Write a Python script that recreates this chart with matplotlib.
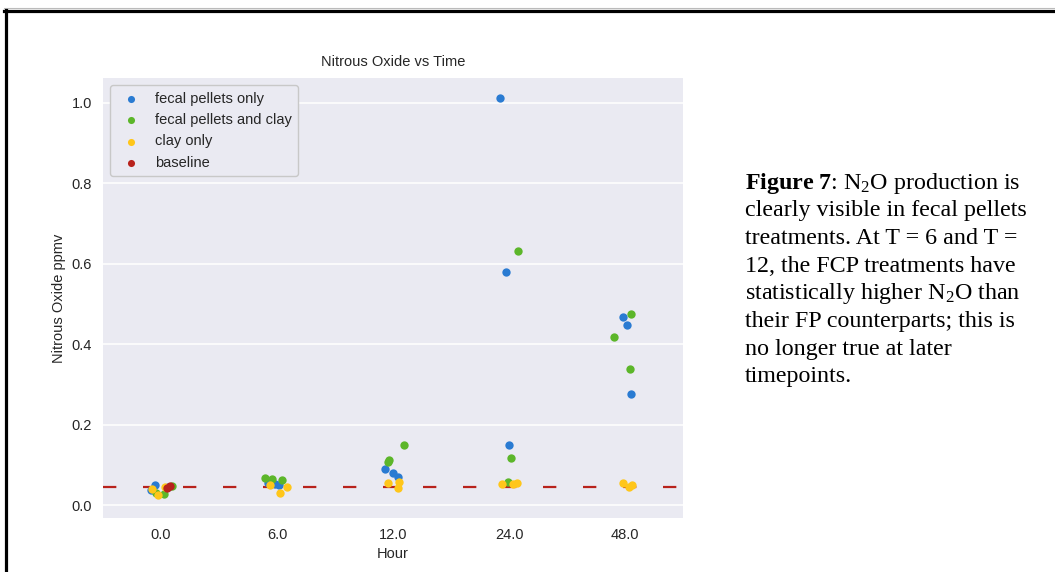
import numpy as np
import matplotlib.pyplot as plt
from matplotlib.lines import Line2D

# N2O readings (ppmv), three replicates per treatment at each sampling hour
hours = [0, 6, 12, 24, 48]
hour_labels = ["0.0", "6.0", "12.0", "24.0", "48.0"]

fecal_pellets_only = [
    [0.037, 0.050, 0.045],
    [0.050, 0.055, 0.052],
    [0.080, 0.089, 0.070],
    [1.012, 0.580, 0.149],
    [0.468, 0.448, 0.276],
]
fecal_pellets_clay = [
    [0.047, 0.030, 0.028],
    [0.062, 0.065, 0.067],
    [0.149, 0.107, 0.112],
    [0.632, 0.117, 0.057],
    [0.475, 0.418, 0.338],
]
clay_only = [
    [0.025, 0.040, 0.045],
    [0.045, 0.050, 0.030],
    [0.055, 0.057, 0.042],
    [0.052, 0.055, 0.052],
    [0.045, 0.050, 0.055],
]
baseline = [0.042, 0.047]  # only sampled at hour 0

treatments = ["fecal pellets only", "fecal pellets and clay", "clay only", "baseline"]
colors = ["#2a7bd2", "#5cb62a", "#ffc61a", "#b8221c"]

plt.rcParams["font.family"] = ["Liberation Sans", "DejaVu Sans"]
plt.rcParams["mathtext.fontset"] = "custom"
plt.rcParams["mathtext.rm"] = "Liberation Serif"
plt.rcParams["mathtext.bf"] = "Liberation Serif:bold"
plt.rcParams["mathtext.it"] = "Liberation Serif:italic"

fig = plt.figure(figsize=(10.55, 5.72), dpi=100)
ax = fig.add_axes([103 / 1055, 54 / 572, 580 / 1055, 440 / 572])

# darkgrid-like look
ax.set_facecolor("#eaeaf2")
for s in ax.spines.values():
    s.set_visible(False)
ax.grid(axis="y", color="white", lw=1.1, zorder=0)
ax.set_axisbelow(True)
ax.tick_params(length=0, labelsize=10.5, labelcolor="#262626")
ax.tick_params(axis="y", pad=8)
ax.tick_params(axis="x", pad=7)

rng = np.random.default_rng(3)


def strip(values_by_hour, color, label):
    xs, ys = [], []
    for i, vals in enumerate(values_by_hour):
        for v in vals:
            xs.append(i + rng.uniform(-0.1, 0.1))
            ys.append(v)
    ax.scatter(xs, ys, s=36, color=color, lw=0, zorder=3, label=label)


strip(fecal_pellets_only, colors[0], treatments[0])
strip(fecal_pellets_clay, colors[1], treatments[1])
strip(clay_only, colors[2], treatments[2])
strip([baseline], colors[3], treatments[3])

# baseline reference level
ax.axhline(np.mean(baseline), color="#b8221c", lw=1.6, dashes=(6, 12), zorder=2)

ax.set_xticks(range(len(hours)))
ax.set_xticklabels(hour_labels)
ax.set_xlim(-0.5, 4.5)
ax.set_ylim(-0.032, 1.062)
ax.set_yticks([0.0, 0.2, 0.4, 0.6, 0.8, 1.0])
ax.set_yticklabels(["0.0", "0.2", "0.4", "0.6", "0.8", "1.0"])

ax.set_title("Nitrous Oxide vs Time", fontsize=10.5, color="#262626", pad=9)
ax.set_xlabel("Hour", fontsize=10.5, color="#262626", labelpad=4)
ax.set_ylabel("Nitrous Oxide ppmv", fontsize=10.5, color="#262626", labelpad=4)

leg = ax.legend(loc="upper left", fontsize=10.5, frameon=True, markerscale=0.85,
                handletextpad=0.6, borderpad=0.45, labelspacing=0.5)
leg.get_frame().set_facecolor("#eaeaf2")
leg.get_frame().set_edgecolor("#c8c8c8")
leg.get_frame().set_alpha(1.0)
for t in leg.get_texts():
    t.set_color("#262626")

# caption on the right
caption = [
    r"$\mathbf{Figure\ 7}$: N$_2$O production is",
    "clearly visible in fecal pellets",
    "treatments. At T = 6 and T =",
    "12, the FCP treatments have",
    r"statistically higher N$_2$O than",
    "their FP counterparts; this is",
    "no longer true at later",
    "timepoints.",
]
y0 = 1 - 183 / 572
step = 27.7 / 572
for k, line in enumerate(caption):
    fig.text(745 / 1055, y0 - k * step, line, fontsize=17.3, va="center", ha="left",
             family="Liberation Serif", color="black")

# slide frame
fig.add_artist(Line2D([4 / 1055, 1], [1 - 8 / 572, 1 - 8 / 572], color="#bbbbbb", lw=0.8))
fig.add_artist(Line2D([4 / 1055, 1], [1 - 10.5 / 572, 1 - 10.5 / 572], color="black", lw=2.3))
fig.add_artist(Line2D([5.5 / 1055, 5.5 / 1055], [0, 1 - 9.5 / 572], color="black", lw=2.3))

fig.savefig("out.png", dpi=100, facecolor="white")
